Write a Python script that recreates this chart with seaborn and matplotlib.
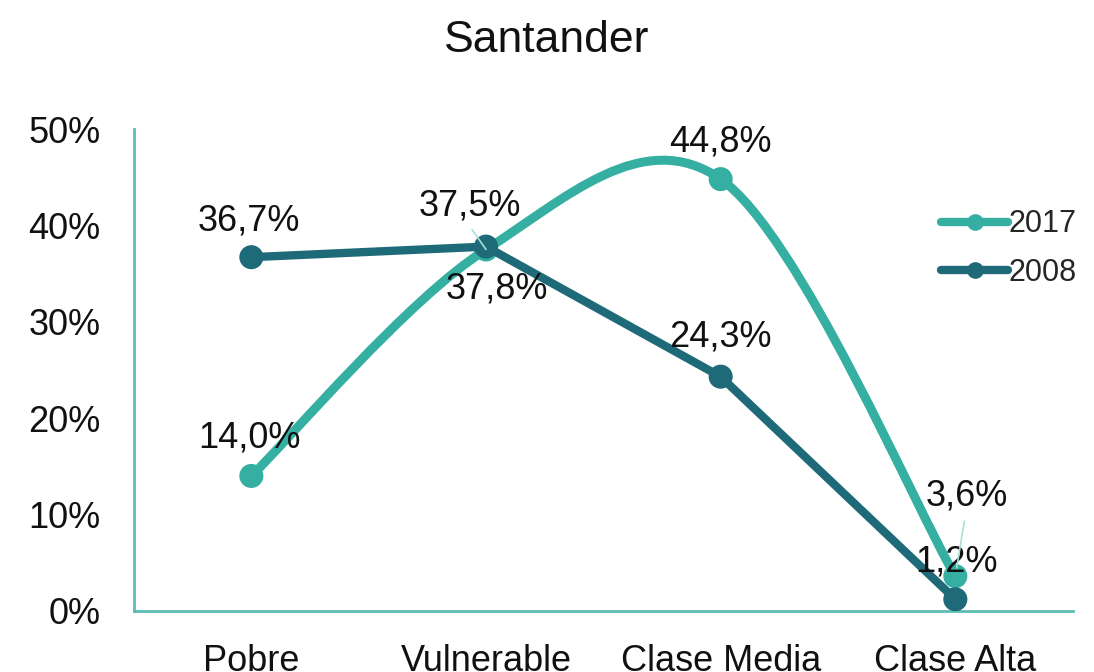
import numpy as np
import pandas as pd
import matplotlib
matplotlib.use("Agg")
import matplotlib.pyplot as plt
from matplotlib.path import Path
from matplotlib.patches import PathPatch
from matplotlib.lines import Line2D
import seaborn as sns

categories = ["Pobre", "Vulnerable", "Clase Media", "Clase Alta"]
values_2017 = [14.0, 37.5, 44.8, 3.6]
values_2008 = [36.7, 37.8, 24.3, 1.2]
labels_2017 = ["14,0%", "37,5%", "44,8%", "3,6%"]
labels_2008 = ["36,7%", "37,8%", "24,3%", "1,2%"]
yticks = [0, 10, 20, 30, 40, 50]

c2017 = "#34AFA1"
c2008 = "#1F6A78"
axis_col = "#5DBDB2"
leader_col = "#A6E0D9"

sns.set_style("white")
plt.rcParams["font.family"] = ["Liberation Sans", "DejaVu Sans"]

df = pd.DataFrame({"pos": range(len(categories)), "cat": categories,
                   "y2017": values_2017, "y2008": values_2008})

fig = plt.figure(figsize=(10.94, 6.72), dpi=100)
ax = fig.add_axes([0.1225, 0.091, 0.858, 0.717])


def smooth_path(xs, ys):
    # Excel-style smoothed line: Catmull-Rom converted to cubic Bezier
    pts = np.column_stack([xs, ys]).astype(float)
    n = len(pts)
    verts = [pts[0]]
    codes = [Path.MOVETO]
    for i in range(n - 1):
        p0 = pts[max(i - 1, 0)]
        p1 = pts[i]
        p2 = pts[i + 1]
        p3 = pts[min(i + 2, n - 1)]
        c1 = p1 + (p2 - p0) / 6.0
        c2 = p2 - (p3 - p1) / 6.0
        verts += [c1, c2, p2]
        codes += [Path.CURVE4] * 3
    return Path(verts, codes)


# 2017 smoothed
ax.add_patch(PathPatch(smooth_path(df["pos"], df["y2017"]), facecolor="none",
                       edgecolor=c2017, lw=6.5, capstyle="round", zorder=2))
sns.scatterplot(data=df, x="pos", y="y2017", color=c2017, s=300, edgecolor="none",
                ax=ax, zorder=3, legend=False)

# 2008 straight
sns.lineplot(data=df, x="pos", y="y2008", color=c2008, lw=6, ax=ax, zorder=4,
             solid_capstyle="round")
sns.scatterplot(data=df, x="pos", y="y2008", color=c2008, s=300, edgecolor="none",
                ax=ax, zorder=5, legend=False)

# data labels (offsets in pixels)
off_2017 = [(-2, 38), (-16, 43), (0, 37), (11, 80)]
off_2008 = [(-3, 36), (11, -42), (0, 40), (1, 37)]
for i in range(len(categories)):
    ax.annotate(labels_2017[i], (i, values_2017[i]), xytext=off_2017[i],
                textcoords="offset pixels", ha="center", va="center", fontsize=26,
                color="#111111", zorder=6)
    ax.annotate(labels_2008[i], (i, values_2008[i]), xytext=off_2008[i],
                textcoords="offset pixels", ha="center", va="center", fontsize=26,
                color="#111111", zorder=6)

# leader lines
ax.annotate("", xy=(3, values_2017[3]), xytext=(9, 55), textcoords="offset pixels",
            arrowprops=dict(arrowstyle="-", color=leader_col, lw=1.2,
                            shrinkA=0, shrinkB=6), zorder=6)
ax.annotate("", xy=(1, values_2017[1]), xytext=(-14, 20), textcoords="offset pixels",
            arrowprops=dict(arrowstyle="-", color=leader_col, lw=1.2,
                            shrinkA=0, shrinkB=0), zorder=6)

ax.set_xlim(-0.5, 3.5)
ax.set_ylim(0, 50)
ax.set_xticks(range(len(categories)))
ax.set_xticklabels(categories)
ax.set_yticks(yticks)
ax.set_yticklabels([f"{t}%" for t in yticks])
ax.tick_params(axis="both", length=0, labelsize=26, colors="#111111")
ax.tick_params(axis="x", pad=24)
ax.tick_params(axis="y", pad=24)
ax.set_xlabel("")
ax.set_ylabel("")

sns.despine(ax=ax)
for s in ["left", "bottom"]:
    ax.spines[s].set_color(axis_col)
    ax.spines[s].set_linewidth(2)

fig.suptitle("Santander", fontsize=32, y=0.97, color="#111111")

handles = [
    Line2D([], [], color=c2017, lw=6, marker="o", markersize=11),
    Line2D([], [], color=c2008, lw=6, marker="o", markersize=11),
]
leg = fig.legend(handles, ["2017", "2008"], loc="center left",
                 bbox_to_anchor=(0.835, 0.63), frameon=False, fontsize=22,
                 handlelength=2.2, handletextpad=0.0, labelspacing=0.6)

fig.savefig("out.png", dpi=100)
